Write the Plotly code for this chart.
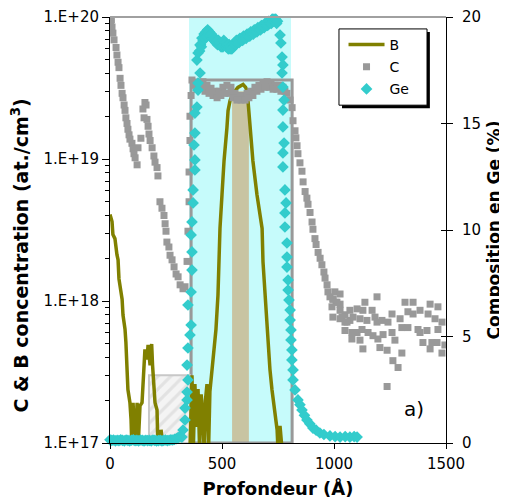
import plotly.graph_objects as go

# ---------------- data ----------------
# B profile (line), depth in Angstrom, concentration in at/cm3
b_depth = [0, 9, 13, 22, 31, 36, 40, 45, 54, 58, 67, 71, 76, 80, 89, 94, 98, 103, 112, 121,
           125, 134, 143, 147, 152, 156, 165, 170, 179, 186, 190, 192, 196, 201, 210, 214, 218,
           223, 228, 237, 300, 357, 366, 372, 379, 386, 393, 400, 407, 415, 420, 426, 433, 440,
           446, 452, 460, 466, 473, 482, 487, 491, 500, 509, 522, 527, 536, 549, 571, 594, 605,
           612, 616, 625, 638, 656, 679, 683, 692, 701, 714, 723, 737, 746, 750, 759, 768, 790]
b_conc = [4.07e18, 3.63e18, 2.94e18, 2.75e18, 2.12e18, 1.95e18, 1.43e18, 1.22e18, 1.03e18, 7.96e17,
          6.33e17, 5.12e17, 3.69e17, 2.38e17, 1.92e17, 1.46e17, 9e16, 1.92e17, 9e16, 1.92e17,
          9e16, 1.83e17, 1.92e17, 2.67e17, 3.3e17, 4.57e17, 3.88e17, 4.9e17, 3.52e17, 4.98e17,
          3.52e17, 2.98e17, 2.67e17, 1.92e17, 1.71e17, 9e16, 1.24e17, 9e16, 1.24e17, 9e16,
          9e16, 9e16, 3.0e17, 9e16, 2.6e17, 1.3e17, 2.4e17, 9e16, 2.2e17, 1.5e17, 9e16, 2.0e17,
          2.6e17, 9e16, 2.3e17, 2.8e17, 3.7e17, 5.0e17, 6.3e17, 1.1e18, 1.89e18, 3.24e18, 5.62e18,
          9.68e18, 1.66e19, 2.19e19, 2.58e19, 2.89e19, 3.19e19, 3.35e19, 3.2e19, 3.03e19, 2.58e19,
          1.66e19, 9.68e18, 5.62e18, 3.24e18, 1.89e18, 1.1e18, 6.03e17, 3.3e17, 2.38e17, 1.63e17,
          1.24e17, 9e16, 1.32e17, 9e16, 9e16]

# C profile (grey squares)
c_depth = [0, 2, 4, 6, 9, 13, 18, 27, 31, 36, 40, 45, 49, 54, 58, 63, 67, 71, 76, 80, 85, 89, 98,
           103, 107, 112, 121, 125, 138,
           147, 156, 161, 152, 165, 170, 174, 179, 188, 196, 201, 210, 214, 223, 232, 241, 246,
           250, 254, 263, 268, 277, 286, 295, 304, 313, 326, 335,
           344, 348, 353, 353, 357, 357, 362, 366,
           379, 397, 415, 433, 451, 469, 487, 504, 522, 540, 558, 576, 594, 612, 629, 647, 665,
           683, 701, 719, 737, 754, 772, 790, 804, 813,
           388, 406, 424, 442, 460, 478, 495, 513, 531, 549, 567, 585, 603, 620, 638, 656, 674,
           692, 710, 728, 745, 763, 781,
           817, 826, 830, 835, 839, 848, 857, 862, 871, 879, 884, 893, 902, 906, 915, 920, 929,
           938, 946, 955, 960, 969, 973, 982, 996, 1009, 1027,
           1004, 1027, 995, 1013, 991, 1027, 995, 1049, 1071, 1103, 1129, 1170, 1138, 1192, 1027,
           1049, 1071, 1085, 1116, 1147, 1183, 1192, 1214, 1241, 1259, 1295, 1317, 1353, 1330,
           1353, 1384, 1429, 1464, 1420, 1451, 1482, 1049, 1080, 1103, 1125, 1116, 1129, 1152,
           1174, 1196, 1205, 1237, 1219, 1259, 1272, 1303, 1263, 1286, 1237, 1303, 1330, 1375,
           1384, 1397, 1437, 1460, 1429, 1482, 1495, 1464, 1415, 1036, 1058, 1080]
c_conc = [9.8e19, 1.0e20, 9.2e19, 9.6e19, 8.5e19, 7.7e19, 6.9e19, 6.1e19, 5.4e19, 4.8e19, 4.4e19,
          3.7e19, 3.3e19, 2.9e19, 2.7e19, 2.4e19, 2.2e19, 1.95e19, 1.78e19, 1.62e19, 1.48e19,
          1.38e19, 1.29e19, 1.18e19, 1.09e19, 1.02e19, 9.1e18, 1.2e19, 1.4e19,
          2.25e19, 2.5e19, 2.4e19, 1.95e19, 1.9e19, 1.7e19, 1.5e19, 1.35e19, 1.2e19, 1.05e19,
          9.5e18, 8.7e18, 7.6e18, 5.0e18, 4.5e18, 4.0e18, 3.5e18, 3.1e18, 2.6e18, 2.4e18, 2.1e18,
          1.95e18, 1.74e18, 1.55e18, 1.48e18, 1.3e18, 1.22e18, 1.26e18,
          1.9e18, 3.1e18, 5.0e18, 8.1e18, 1.35e19, 2.0e19, 2.8e19, 3.6e19,
          3.3e19, 3.4e19, 3.5e19, 3.3e19, 3.15e19, 3.0e19, 3.0e19, 3.2e19, 3.3e19, 3.2e19, 2.9e19,
          2.8e19, 2.8e19, 2.9e19, 3.0e19, 3.2e19, 3.3e19, 3.4e19, 3.5e19, 3.4e19, 3.3e19, 3.3e19,
          3.2e19, 2.9e19, 2.6e19, 2.3e19,
          3.1e19, 3.2e19, 3.0e19, 2.9e19, 2.8e19, 2.7e19, 2.8e19, 2.9e19, 2.9e19, 2.7e19, 2.6e19,
          2.6e19, 2.6e19, 2.7e19, 2.8e19, 3.0e19, 3.1e19, 3.2e19, 3.2e19, 3.1e19, 3.1e19, 3.0e19,
          3.0e19,
          1.86e19, 1.58e19, 1.41e19, 1.24e19, 1.09e19, 9.4e18, 8.2e18, 6.9e18, 5.9e18, 5.3e18,
          4.8e18, 4.2e18, 3.6e18, 3.2e18, 2.75e18, 2.5e18, 2.2e18, 2.0e18, 1.8e18, 1.6e18,
          1.45e18, 1.3e18, 1.16e18, 1.07e18, 1.03e18, 9.8e17, 9.5e17,
          1.16e18, 1.12e18, 1.03e18, 9.8e17, 9.1e17, 8.6e17, 7.7e17, 8.0e17, 8.6e17, 8.8e17,
          8.6e17, 8.6e17, 9.8e17, 1.07e18, 7.5e17, 7.1e17, 7.3e17, 7.7e17, 7.5e17, 7.3e17, 7.7e17,
          7.1e17, 7.3e17, 7.1e17, 8.1e17, 7.5e17, 9.8e17, 9.8e17, 8.4e17, 8.1e17, 8.6e17, 9.5e17,
          9.1e17, 8.1e17, 7.5e17, 7.1e17, 6.2e17, 5.4e17, 6.0e17, 6.3e17, 5.3e17, 4.6e17, 6.0e17,
          5.7e17, 5.4e17, 4.7e17, 4.5e17, 5.8e17, 6.0e17, 5.3e17, 4.3e17, 3.8e17, 3.4e17, 2.5e17,
          6.5e17, 6.5e17, 6.3e17, 6.0e17, 5.1e17, 5.1e17, 5.1e17, 4.6e17, 4.3e17, 4.9e17, 6.3e17,
          6.2e17, 7.7e17, 7.1e17, 6.0e17]

# Ge composition (cyan diamonds), in %
ge_depth = [0, 8, 16, 24, 32, 40, 48, 56, 64, 72, 80, 88, 96, 104, 112, 120, 128, 136, 144, 152,
            160, 168, 176, 184, 192, 200, 208, 216, 224, 232, 240, 248, 256, 264, 272, 280, 288,
            296, 304, 312,
            321, 326, 335, 335, 344, 344, 348, 344, 348, 357, 362, 348, 362, 366, 366, 362, 366,
            371, 371, 379, 379, 375, 379, 379, 388, 393, 393, 402, 388, 393, 402, 411,
            400, 404, 408, 412, 416, 420, 424, 428, 432, 436, 440, 444, 448, 452, 456, 460, 464,
            468, 472, 476, 480, 484, 488, 492, 496, 500, 504, 508, 512, 516, 520, 524, 528, 532,
            536, 540, 544, 548, 552, 556, 560, 564, 568, 572, 576, 580, 584, 588, 592, 596, 600,
            604, 608, 612, 616, 620, 624, 628, 632, 636, 640, 644, 648, 652, 656, 660, 664, 668,
            672, 676, 680, 684, 688, 692, 696, 700, 704, 708, 712, 716, 720, 724, 728, 732, 736,
            740, 744, 748,
            759, 763, 768, 772, 768, 772, 777, 772, 772, 777, 772, 772, 781, 786, 781, 781, 790,
            790, 790, 795, 795, 799, 804, 804, 808, 808, 812, 812, 817, 817, 826, 839, 848, 857,
            868, 879, 892, 906, 920, 937, 955, 982, 1005, 1027, 1050, 1071, 1090, 1103]
ge_pct = [0.15, 0.12, 0.14, 0.1, 0.13, 0.11, 0.15, 0.12, 0.1, 0.14, 0.12, 0.1, 0.13, 0.15, 0.11,
          0.12, 0.1, 0.14, 0.12, 0.1, 0.13, 0.11, 0.12, 0.1, 0.14, 0.12, 0.1, 0.11, 0.13, 0.1,
          0.12, 0.14, 0.11, 0.13, 0.15, 0.14, 0.17, 0.2, 0.25, 0.3,
          0.28, 0.61, 1.08, 1.64, 2.02, 2.39, 2.96, 3.66, 4.46, 5.07, 5.54, 6.48, 7.09, 8.12, 8.97,
          9.77, 10.38, 11.27, 11.88, 12.82, 13.29, 13.99, 14.55, 15.49, 15.77, 16.57, 16.9, 17.37,
          17.98, 18.31, 18.69, 19.01,
          18.4, 18.7, 18.6, 19.0, 18.9, 19.2, 19.0, 19.3, 19.1, 19.4, 19.2, 19.3, 19.1, 19.2, 19.0,
          19.1, 18.9, 19.0, 18.8, 18.9, 18.7, 18.9, 18.7, 18.8, 18.6, 18.8, 18.6, 18.9, 18.7, 18.8,
          18.6, 18.7, 18.5, 18.7, 18.5, 18.6, 18.5, 18.7, 18.6, 18.8, 18.7, 18.9, 18.8, 18.9, 18.8,
          19.0, 18.9, 19.0, 18.9, 19.1, 19.0, 19.1, 19.0, 19.2, 19.1, 19.2, 19.1, 19.3, 19.2, 19.3,
          19.2, 19.4, 19.3, 19.4, 19.3, 19.5, 19.4, 19.5, 19.4, 19.6, 19.5, 19.6, 19.5, 19.7, 19.6,
          19.7, 19.6, 19.8, 19.7, 19.8, 19.7, 19.9, 19.8, 19.9, 19.8, 19.9, 19.7, 19.8,
          19.15, 18.78, 18.12, 17.75, 17.37, 16.71, 16.1, 15.63, 14.84, 14.08, 13.62, 12.96, 11.88,
          11.27, 10.8, 10.14, 9.39, 8.73, 8.26, 7.65, 7.18, 6.71, 6.24, 5.77, 5.31, 4.84, 4.37,
          3.9, 3.43, 2.96, 2.49, 2.02, 1.8, 1.55, 1.3, 1.08, 0.9, 0.7, 0.6, 0.47, 0.4, 0.33, 0.3,
          0.28, 0.3, 0.28, 0.3, 0.28]

# hatched zone (depth limits and top concentration)
hatch_depth = [174, 357, 357, 174, 174]
hatch_conc = [1e17, 1e17, 3.0e17, 3.0e17, 1e17]

x_ticks = [0, 500, 1000, 1500]
y_ticks = [1e17, 1e18, 1e19, 1e20]
y_tick_labels = ["1.E+17", "1.E+18", "1.E+19", "1.E+20"]
ge_ticks = [0, 5, 10, 15, 20]
minor_ticks = [m * 10.0 ** e for e in (17, 18, 19) for m in range(2, 10)]

FONT = "DejaVu Sans, Arial, sans-serif"
OLIVE = "#808000"
GREY = "#999999"
CYAN = "#33cccc"

fig = go.Figure()

fig.add_trace(go.Scatter(
    x=hatch_depth, y=hatch_conc, mode="lines", fill="toself",
    line=dict(color="#c8c8c8", width=2),
    fillcolor="rgba(255,255,255,0)",
    fillpattern=dict(shape="/", fgcolor="#d0d0d0", bgcolor="#f4f4f4", size=9, solidity=0.35),
    showlegend=False, hoverinfo="skip"))

fig.add_trace(go.Scatter(
    x=b_depth, y=b_conc, mode="lines", name="B",
    line=dict(color=OLIVE, width=3.5), legendgroup="b"))

fig.add_trace(go.Scatter(
    x=c_depth, y=c_conc, mode="markers", name="C",
    marker=dict(symbol="square", color=GREY, size=7), legendgroup="c"))

fig.add_trace(go.Scatter(
    x=ge_depth, y=ge_pct, mode="markers", name="Ge", yaxis="y2",
    marker=dict(symbol="diamond", color=CYAN, size=9), cliponaxis=False, legendgroup="ge"))

# empty helper trace so that the inner half of the right-axis ticks is drawn
fig.add_trace(go.Scatter(x=[None], y=[None], yaxis="y3", showlegend=False,
                         hoverinfo="skip", mode="markers"))

shapes = [
    # light cyan SiGe zone
    dict(type="rect", xref="x", yref="y", x0=353, x1=808, y0=1e17, y1=1e20,
         fillcolor="#c6fbfb", line=dict(width=0), layer="below"),
    # tan bar
    dict(type="rect", xref="x", yref="y", x0=545, x1=620, y0=1e17, y1=3.0e19,
         fillcolor="#c8c4a2", line=dict(width=0), layer="below"),
    # grey box
    dict(type="rect", xref="x", yref="y", x0=362, x1=813, y0=1e17, y1=3.6e19,
         fillcolor="rgba(0,0,0,0)", line=dict(color=GREY, width=3), layer="below"),
    # top frame line
    dict(type="line", xref="paper", yref="paper", x0=0, x1=1, y0=1, y1=1,
         line=dict(color="#a0a0a0", width=2)),
    # legend shadow and box
    dict(type="rect", xref="paper", yref="paper", x0=0.6905, x1=0.952, y0=0.786, y1=0.965,
         fillcolor="black", line=dict(width=0), layer="above"),
    dict(type="rect", xref="paper", yref="paper", x0=0.6815, x1=0.9435, y0=0.793, y1=0.972,
         fillcolor="white", line=dict(color="black", width=1), layer="above"),
]

# The page has an 8 px body margin: the figure is sized/margined so that the
# plot area lands where the reference shows it inside the 507x500 window.
fig.update_layout(
    width=499, height=492,
    margin=dict(l=102, r=61, t=9, b=57, autoexpand=False),
    paper_bgcolor="white", plot_bgcolor="white",
    font=dict(family=FONT, size=15, color="black"),
    shapes=shapes,
    showlegend=True,
    legend=dict(x=0.695, y=0.972, xanchor="left", yanchor="top",
                bgcolor="rgba(0,0,0,0)", borderwidth=0,
                font=dict(family=FONT, size=14, color="black"),
                traceorder="grouped", tracegroupgap=1, itemwidth=36),
    xaxis=dict(range=[0, 1500], tickvals=x_ticks, ticks="outside", ticklen=5,
               tickcolor="black", showline=True, linecolor="black", linewidth=1,
               showgrid=False, zeroline=False, automargin=False,
               tickfont=dict(family=FONT, size=15), ticklabelstandoff=2,
               title=dict(text="<b>Profondeur (Å)</b>", font=dict(family=FONT, size=18),
                          standoff=10)),
    yaxis=dict(type="log", range=[17, 20], tickvals=y_ticks, ticktext=y_tick_labels,
               ticks="outside", ticklen=7, tickcolor="black",
               minor=dict(tickvals=minor_ticks, ticks="outside", ticklen=4, tickcolor="black"),
               showline=True, linecolor="black", linewidth=1, showgrid=False, zeroline=False,
               automargin=False,
               tickfont=dict(family=FONT, size=15)),
    yaxis2=dict(overlaying="y", side="right", range=[0, 20], tickvals=ge_ticks,
                ticks="outside", ticklen=6, tickcolor="black",
                showline=True, linecolor="black", linewidth=1, showgrid=False, zeroline=False,
                automargin=False, ticklabelstandoff=6,
                tickfont=dict(family=FONT, size=15),
                title=dict(text="<b>Composition en Ge (%)</b>",
                           font=dict(family=FONT, size=17), standoff=8)),
    yaxis3=dict(overlaying="y", side="right", range=[0, 20], tickvals=ge_ticks,
                ticks="inside", ticklen=5, tickcolor="black", showticklabels=False,
                showline=False, showgrid=False, zeroline=False, automargin=False),
    annotations=[
        dict(text="a)", xref="paper", yref="paper", x=0.905, y=0.08,
             xanchor="center", yanchor="middle",
             showarrow=False, font=dict(family=FONT, size=20, color="black")),
        # left axis title (placed like in the reference, a bit below the axis centre)
        dict(text="<b>C & B concentration (at./cm<sup>3</sup>)</b>", xref="paper",
             yref="paper", x=-0.268, y=0.44, xanchor="center", yanchor="middle",
             textangle=-90, showarrow=False,
             font=dict(family=FONT, size=19, color="black")),
    ],
)

fig.write_html("out.html")
